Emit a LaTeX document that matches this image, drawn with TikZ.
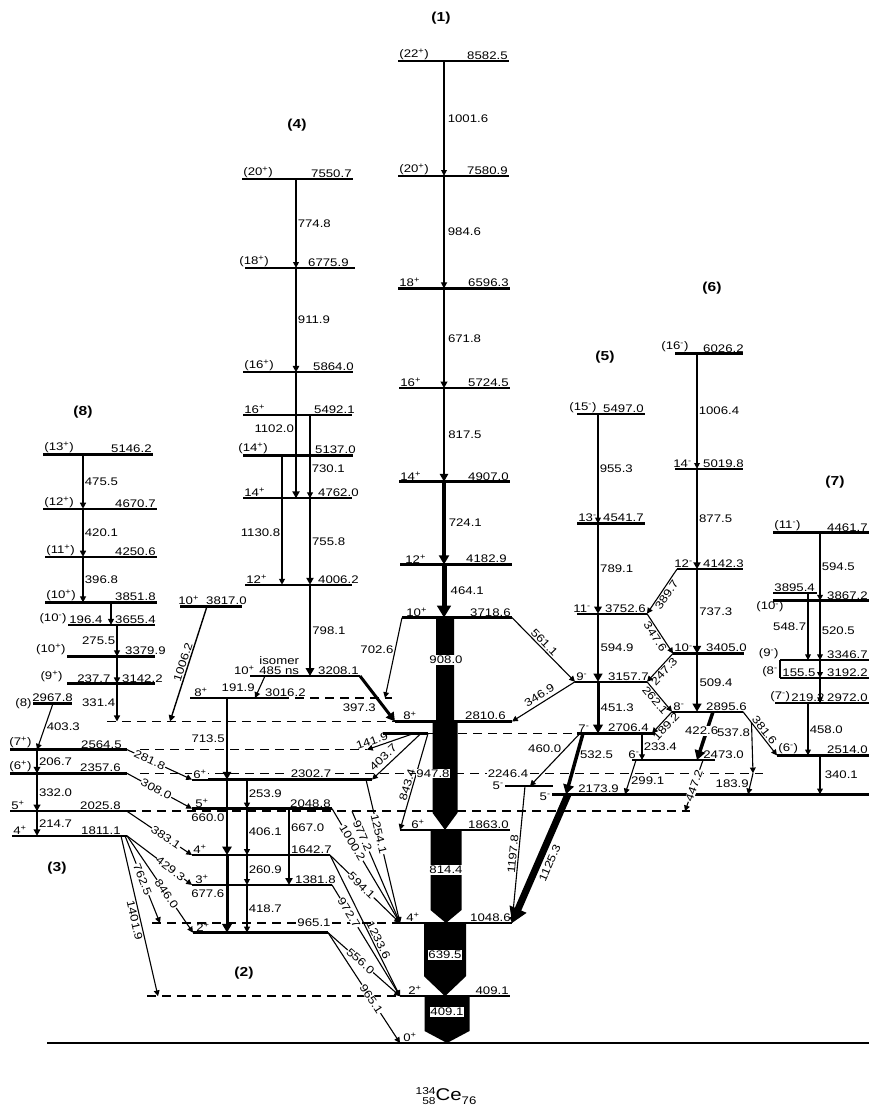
\documentclass[tikz,border=0pt]{standalone}
\usepackage{fontspec}
\setmainfont{Liberation Sans}[FakeStretch=1.2]
\usetikzlibrary{positioning, arrows.meta, calc, backgrounds}
\newcommand{\ey}[1]{{1043-0.1144*#1}}
\newcommand{\sgp}{\textsuperscript{+}}
\newcommand{\sgm}{\textsuperscript{-}}
\newcommand{\lvl}[4]{\draw[lvline] (#2,\ey{#4}) coordinate (#1) -- (#3,\ey{#4}) coordinate (#1e);}
\newcommand{\fat}[5]{\fill ({#1-#2},{1043-0.1144*#3}) -- ({#1+#2},{1043-0.1144*#3}) -- ({#1+#2},{1043-0.1144*#4-#5}) -- (#1,{1043-0.1144*#4}) -- ({#1-#2},{1043-0.1144*#4-#5}) -- cycle;}

\begin{document}
\begin{tikzpicture}[
		x=1pt, y=-1pt,
		every node/.style={font=\fontsize{11}{12}\selectfont, inner sep=1.2pt},
		lvline/.style={line width=2.4pt},
		dext/.style={line width=1.6pt, dash pattern=on 9pt off 6pt},
		tr/.style={line width=#1, -{Triangle[length=4pt 1.6, width=3.5pt 2]}},
		tr/.default=1.1pt,
		spinl/.style={anchor=south west},
		enr/.style={anchor=south east},
		onl/.style={sloped, fill=white, inner sep=0.4pt},
		barlab/.style={fill=white, inner sep=0.8pt},
		band/.style={font=\bfseries\fontsize{13}{15}\selectfont}
		]
		\useasboundingbox (0,0) rectangle (869,1113);
		
		% Columns of the in-band transitions
		\coordinate (c1) at (444,0);
		\coordinate (c4a) at (296,0);
		\coordinate (c4b) at (310,0);
		\coordinate (c4c) at (282,0);
		\coordinate (c8a) at (83,0);
		\coordinate (c8b) at (111,0);
		\coordinate (c8c) at (117,0);
		\coordinate (c3) at (37,0);
		\coordinate (c2a) at (227,0);
		\coordinate (c2b) at (247,0);
		\coordinate (c2c) at (289,0);
		\coordinate (c5) at (598,0);
		\coordinate (c5b) at (642,0);
		\coordinate (c6) at (697,0);
		\coordinate (c7a) at (808,0);
		\coordinate (c7b) at (820,0);
		
		% Levels, band (1)
		\lvl{l8582}{398}{509}{8582.5}
		\lvl{l7580}{398}{509}{7580.9}
		\lvl{l6596}{398}{510}{6596.3}
		\lvl{l5724}{399}{510}{5724.5}
		\lvl{l4907}{399}{510}{4907.0}
		\lvl{l4182}{400}{512}{4182.9}
		\lvl{l3718}{402}{512}{3718.6}
		\lvl{l2810}{395}{512}{2810.6}
		\lvl{l1863}{400}{510}{1863.0}
		\lvl{l1048}{400}{512}{1048.6}
		\lvl{l409}{400}{510}{409.1}
		\lvl{l0}{47}{869}{0}
		% band (4)
		\lvl{l7550}{242}{353}{7550.7}
		\lvl{l6775}{245}{355}{6775.9}
		\lvl{l5864}{243}{353}{5864.0}
		\lvl{l5492}{243}{352}{5492.1}
		\lvl{l5137}{243}{353}{5137.0}
		\lvl{l4762}{243}{352}{4762.0}
		\lvl{l4006}{245}{352}{4006.2}
		\lvl{l3817}{180}{242}{3817.0}
		\lvl{l3208}{250}{360}{3208.1}
		\lvl{l3016}{190}{280}{3016.2}
		% band (8)
		\lvl{l5146}{43}{153}{5146.2}
		\lvl{l4670}{43}{157}{4670.7}
		\lvl{l4250}{45}{157}{4250.6}
		\lvl{l3851}{45}{157}{3851.8}
		\lvl{l3655}{68}{155}{3655.4}
		\lvl{l3379}{67}{155}{3379.9}
		\lvl{l3142}{67}{155}{3142.2}
		\lvl{l2967}{33}{72}{2967.8}
		% band (3)
		\lvl{l2564}{10}{127}{2564.5}
		\lvl{l2357}{10}{127}{2357.6}
		\lvl{l2025}{10}{127}{2025.8}
		\lvl{l1811}{12}{127}{1811.1}
		% band (2)
		\lvl{l2302}{192}{372}{2302.7}
		\lvl{l2048}{192}{332}{2048.8}
		\lvl{l1642}{192}{330}{1642.7}
		\lvl{l1381}{192}{332}{1381.8}
		\lvl{l965}{193}{328}{965.1}
		% band (5)
		\lvl{l5497}{577}{645}{5497.0}
		\lvl{l4541}{577}{645}{4541.7}
		\lvl{l3752}{577}{647}{3752.6}
		\lvl{l3157}{575}{647}{3157.7}
		\lvl{l2706}{577}{655}{2706.4}
		\lvl{l2706w}{383}{428}{2706.4}
		\lvl{l2246}{505}{553}{2246.4}
		\lvl{l2173}{552}{869}{2173.9}
		% band (6)
		\lvl{l6026}{675}{743}{6026.2}
		\lvl{l5019}{675}{743}{5019.8}
		\lvl{l4142}{677}{743}{4142.3}
		\lvl{l3405}{673}{744}{3405.0}
		\lvl{l2895}{672}{743}{2895.6}
		\lvl{l2473}{632}{715}{2473.0}
		% band (7)
		\lvl{l4461}{773}{869}{4461.7}
		\lvl{l3895}{773}{817}{3935}
		\lvl{l3867}{773}{869}{3867.2}
		\lvl{l3346}{780}{869}{3346.7}
		\lvl{l3192}{780}{869}{3192.2}
		\lvl{l2972}{775}{869}{2972.0}
		\lvl{l2514}{777}{869}{2514.0}
		\draw[line width=1.4pt] (l3346) -- (l3192);
		
		% Dashed continuations of levels
		\begin{scope}[on background layer]
			\draw[dext] (107,0 |- l2810) -- (l2810);
			\draw[dext] (140,0 |- l2564) -- (367,0 |- l2564);
			\draw[dext] (140,0 |- l2357) -- (763,0 |- l2357);
			\draw[dext] (l2025e) -- (690,0 |- l2025);
			\draw[dext] (l3016e) -- (392,0 |- l3016);
			\draw[dext] (l2706we) -- (l2706);
			\draw[dext] (152,0 |- l1048) -- (l1048);
			\draw[dext] (147,0 |- l409) -- (l409);
		\end{scope}
		
		% In-band transitions
		\draw[tr] (c1 |- l8582) -- node[right=2pt] {1001.6} (c1 |- l7580);
		\draw[tr=1.3pt] (c1 |- l7580) -- node[right=2pt] {984.6} (c1 |- l6596);
		\draw[tr=1.6pt] (c1 |- l6596) -- node[right=2pt] {671.8} (c1 |- l5724);
		\draw[tr=2.4pt] (c1 |- l5724) -- node[right=2pt] {817.5} (c1 |- l4907);
		\draw[tr=3.2pt] (c1 |- l4907) -- node[right=2pt] {724.1} (c1 |- l4182);
		\draw[tr=5pt] (c1 |- l4182) -- node[right=3pt] {464.1} (c1 |- l3718);
		
		\draw[tr] (c4a |- l7550) -- node[right] {774.8} (c4a |- l6775);
		\draw[tr=1.5pt] (c4a |- l6775) -- node[right] {911.9} (c4a |- l5864);
		\draw[tr=1.8pt] (c4a |- l5864) -- node[left, pos=0.45] {1102.0} (c4a |- l4762);
		\draw[tr=1.2pt] (c4b |- l5492) -- node[right, pos=0.65] {730.1} (c4b |- l4762);
		\draw[tr=1.8pt] (c4b |- l4762) -- node[right] {755.8} (c4b |- l4006);
		\draw[tr=2.4pt] (c4b |- l4006) -- node[right] {798.1} (c4b |- l3208);
		\draw[tr=1.2pt] (c4c |- l5137) -- node[left, pos=0.6] {1130.8} (c4c |- l4006);
		
		\draw[tr=1.3pt] (c8a |- l5146) -- node[right] {475.5} (c8a |- l4670);
		\draw[tr=1.3pt] (c8a |- l4670) -- node[right] {420.1} (c8a |- l4250);
		\draw[tr=1.3pt] (c8a |- l4250) -- node[right] {396.8} (c8a |- l3851);
		\draw[tr=1.3pt] (c8b |- l3851) -- (c8b |- l3655);
		\draw[tr=1.3pt] (c8c |- l3655) -- node[left] {275.5} (c8c |- l3379);
		\draw[tr=1.3pt] (c8c |- l3379) -- (c8c |- l3142);
		\draw[tr=1.3pt] (c8c |- l3142) -- node[left] {331.4} (c8c |- l2810);
		
		\draw[tr=1.6pt] (c3 |- l2564) -- node[right] {206.7} (c3 |- l2357);
		\draw[tr=1.6pt] (c3 |- l2357) -- node[right] {332.0} (c3 |- l2025);
		\draw[tr=1.6pt] (c3 |- l2025) -- node[right] {214.7} (c3 |- l1811);
		
		\draw[tr=2.4pt] (c2a |- l3016) -- node[left] {713.5} (c2a |- l2302);
		\draw[tr=2.8pt] (c2a |- l2302) -- node[left] {660.0} (c2a |- l1642);
		\draw[tr=3pt] (c2a |- l1642) -- node[left] {677.6} (c2a |- l965);
		\draw[tr=1.2pt] (c2b |- l2302) -- node[right] {253.9} (c2b |- l2048);
		\draw[tr=1.2pt] (c2b |- l2048) -- node[right] {406.1} (c2b |- l1642);
		\draw[tr=1.2pt] (c2b |- l1642) -- node[right] {260.9} (c2b |- l1381);
		\draw[tr=1.2pt] (c2b |- l1381) -- node[right] {418.7} (c2b |- l965);
		\draw[tr=1.8pt] (c2c |- l2048) -- node[right, pos=0.25] {667.0} (c2c |- l1381);
		
		\draw[tr] (c5 |- l5497) -- node[right] {955.3} (c5 |- l4541);
		\draw[tr=2pt] (c5 |- l4541) -- node[right] {789.1} (c5 |- l3752);
		\draw[tr=2.6pt] (c5 |- l3752) -- node[right] {594.9} (c5 |- l3157);
		\draw[tr=3pt] (c5 |- l3157) -- node[right] {451.3} (c5 |- l2706);
		\draw[tr] (c5b |- l2706) -- node[right] {233.4} (c5b |- l2473);
		
		\draw[tr] (c6 |- l6026) -- node[right] {1006.4} (c6 |- l5019);
		\draw[tr=1.8pt] (c6 |- l5019) -- node[right] {877.5} (c6 |- l4142);
		\draw[tr=2.2pt] (c6 |- l4142) -- node[right] {737.3} (c6 |- l3405);
		\draw[tr=2.6pt] (c6 |- l3405) -- node[right] {509.4} (c6 |- l2895);
		
		\draw[tr] (c7b |- l4461) -- node[right] {594.5} (c7b |- l3867);
		\draw[tr] (c7a |- l3895) -- node[left] {548.7} (c7a |- l3346);
		\draw[tr] (c7b |- l3867) -- node[right] {520.5} (c7b |- l3346);
		\draw[tr] (c7b |- l3346) -- (c7b |- l3192);
		\draw[tr] (c7b |- l3192) -- (c7b |- l2972);
		\draw[tr] (c7a |- l2972) -- node[right] {458.0} (c7a |- l2514);
		\draw[tr] (c7b |- l2514) -- node[right=3pt] {340.1} (c7b |- l2173);
		
		% Linking transitions
		\draw[tr=1.4pt] (207,0 |- l3817) -- node[above, sloped] {1006.2} (170,0 |- l2810);
		\draw[tr] (l3718) -- node[left, pos=0.4] {702.6} (385,0 |- l3016);
		\draw[tr=3pt] (l3208e) -- node[left=6pt, pos=0.7] {397.3} (l2810);
		\draw[tr] (265,0 |- l3208) -- node[left=3pt, pos=0.55] {191.9} (255,0 |- l3016);
		\draw[tr] (53,0 |- l2967) -- node[right] {403.3} (37,0 |- l2564);
		
		\draw[tr] (l3718e) -- node[above, sloped, pos=0.45] {561.1} (l3157);
		\draw[tr] (l3157) -- node[above=2pt, sloped] {346.9} (l2810e);
		\draw[tr] (l4142) -- node[below, sloped] {389.7} (l3752e);
		\draw[tr] (l3752e) -- node[below, sloped] {347.6} (l3405);
		\draw[tr] (l3405) -- node[below, sloped] {247.3} (l3157e);
		\draw[tr] (l3157e) -- node[below, sloped] {262.1} (l2895);
		\draw[tr] (l2895e) -- node[above, sloped] {381.6} (l2514);
		\draw[tr] (l2895) -- node[below, sloped] {189.2} (652,0 |- l2706);
		\draw[tr=3.5pt] (713,0 |- l2895) -- node[barlab, pos=0.4, xshift=-5pt] {422.6} (697,0 |- l2473);
		\draw[tr] ($(l2895e)!0.25!(l2514)$) -- node[left, pos=0.2] {537.8} (753,0 |- l2357);
		\draw[tr] (753,0 |- l2357) -- node[left] {183.9} (748,0 |- l2173);
		\draw[tr] (703,0 |- l2473) -- node[onl] {447.2} (685,0 |- l2025);
		\draw[tr] (636,0 |- l2473) -- node[right, pos=0.6] {299.1} (625,0 |- l2173);
		\draw[tr] (580,0 |- l2706) -- node[left=2pt, pos=0.3] {460.0} (530,0 |- l2246);
		\draw[tr=3.5pt] (583,0 |- l2706) -- node[right, pos=0.35] {532.5} (566,0 |- l2173);
		\draw[tr=7pt] (568,0 |- l2173) -- node[below=2pt, sloped] {1125.3} (l1048e);
		\draw[tr] (525,0 |- l2246) -- node[above, sloped] {1197.8} (l1048e);
		
		\draw[tr] (414,0 |- l2706w) -- node[above=1pt, sloped, pos=0.85] {141.9} (367,0 |- l2564);
		\draw[tr] (421,0 |- l2706w) -- node[above=3pt, sloped, pos=0.65] {403.7} (l2302e);
		\draw[tr] (l2706we) -- node[above, sloped, pos=0.55] {843.4} (l1863);
		\draw[tr] (366,0 |- l2302) -- node[onl, pos=0.38] {1254.1} (l1048);
		\draw[tr] (352,0 |- l2025) -- node[onl, pos=0.22] {977.2} (l1048);
		\draw[tr] (l2048e) -- node[onl, pos=0.3] {1000.2} (l1048);
		\draw[tr] (l1642e) -- node[onl, pos=0.45] {594.1} (l1048);
		\draw[tr] (l1642e) -- node[above, sloped, pos=0.62] {1233.6} (l409);
		\draw[tr] (l1381e) -- node[onl, pos=0.25] {972.7} (l409);
		\draw[tr] (l965e) -- node[onl, pos=0.45] {556.0} (l409);
		\draw[tr] (l965e) -- node[onl, pos=0.6] {965.1} (400,0 |- l0);
		
		\draw[tr] (l2564e) -- node[onl, pos=0.35] {281.8} (l2302);
		\draw[tr] (l2357e) -- node[onl, pos=0.45] {308.0} (l2048);
		\draw[tr] (l2025e) -- node[onl, pos=0.6] {383.1} (l1642);
		\draw[tr] (l1811e) -- node[onl, pos=0.67] {429.3} (l1381);
		\draw[tr] (l1811e) -- node[onl, pos=0.6] {846.0} (l965);
		\draw[tr] (125,0 |- l1811) -- node[onl, pos=0.5] {762.5} (160,0 |- l1048);
		\draw[tr] (121,0 |- l1811) -- node[below, sloped, pos=0.52] {1401.9} (158,0 |- l409);
		
		% Yrast cascade, band (1)
		\fat{445}{9}{3718.6}{2810.6}{0}
		\fat{445}{12.5}{2810.6}{1863.0}{17}
		\fat{446}{15.5}{1863.0}{1048.6}{13}
		\fat{445}{21}{1048.6}{409.1}{20}
		\fat{447}{22.5}{409.1}{0}{12}
		\node[barlab] (b908) at (446,660) {908.0};
		\node[barlab] (b947) at (433,\ey{2357.6}) {947.8};
		\node[barlab] (b814) at (446,870) {814.4};
		\node[barlab] (b639) at (445,955) {639.5};
		\node[barlab] (b409) at (447,1012) {409.1};
		
		% Level labels
		\node[spinl] at (l8582) {(22\sgp)}; \node[enr] at (l8582e) {8582.5};
		\node[spinl] at (l7580) {(20\sgp)}; \node[enr] at (l7580e) {7580.9};
		\node[spinl] at (l6596) {18\sgp}; \node[enr] at (l6596e) {6596.3};
		\node[spinl] at (l5724) {16\sgp}; \node[enr] at (l5724e) {5724.5};
		\node[spinl] at (l4907) {14\sgp}; \node[enr] at (l4907e) {4907.0};
		\node[spinl, xshift=4pt] at (l4182) {12\sgp}; \node[enr, xshift=-4pt] at (l4182e) {4182.9};
		\node[spinl, xshift=3pt] at (l3718) {10\sgp}; \node[enr] at (l3718e) {3718.6};
		\node[spinl, xshift=7pt] at (l2810) {8\sgp}; \node[enr, xshift=-5pt] at (l2810e) {2810.6};
		\node[spinl, xshift=10pt] at (l1863) {6\sgp}; \node[enr] at (l1863e) {1863.0};
		\node[spinl, xshift=5pt] at (l1048) {4\sgp}; \node[enr] at (l1048e) {1048.6};
		\node[spinl, xshift=7pt] at (l409) {2\sgp}; \node[enr] at (l409e) {409.1};
		\node[spinl] at (402,0 |- l0) {0\sgp};
		
		\node[spinl] at (l7550) {(20\sgp)}; \node[enr] at (l7550e) {7550.7};
		\node[spinl, xshift=-7pt] at (l6775) {(18\sgp)}; \node[enr, xshift=-5pt] at (l6775e) {6775.9};
		\node[spinl] at (l5864) {(16\sgp)}; \node[enr, xshift=2pt] at (l5864e) {5864.0};
		\node[spinl] at (l5492) {16\sgp}; \node[enr, xshift=4pt] at (l5492e) {5492.1};
		\node[spinl, xshift=-6pt] at (l5137) {(14\sgp)}; \node[enr, xshift=4pt] at (l5137e) {5137.0};
		\node[spinl] at (l4762) {14\sgp}; \node[enr, xshift=8pt] at (l4762e) {4762.0};
		\node[spinl] at (l4006) {12\sgp}; \node[enr, xshift=8pt] at (l4006e) {4006.2};
		\node[spinl, xshift=-3pt] at (l3817) {10\sgp}; \node[enr, xshift=6pt] at (l3817e) {3817.0};
		\node[enr, xshift=6pt] at (l3208) {10\sgp};
		\node[spinl, xshift=8pt] (ns) at (l3208) {485 ns};
		\node[above=-1pt of ns] {isomer};
		\node[enr] at (l3208e) {3208.1};
		\node[spinl, xshift=3pt] at (l3016) {8\sgp}; \node[enr, xshift=27pt] at (l3016e) {3016.2};
		
		\node[spinl] at (l5146) {(13\sgp)}; \node[enr] at (l5146e) {5146.2};
		\node[spinl] at (l4670) {(12\sgp)}; \node[enr] at (l4670e) {4670.7};
		\node[spinl] at (l4250) {(11\sgp)}; \node[enr] at (l4250e) {4250.6};
		\node[spinl] at (l3851) {(10\sgp)}; \node[enr] at (l3851e) {3851.8};
		\node[enr] at (l3655) {(10\sgm)}; \node[spinl] at (l3655) {196.4}; \node[enr, xshift=2pt] at (l3655e) {3655.4};
		\node[enr] at (l3379) {(10\sgp)}; \node[enr, xshift=12pt] at (l3379e) {3379.9};
		\node[enr, xshift=-3pt] at (l3142) {(9\sgp)}; \node[spinl, xshift=9pt] at (l3142) {237.7}; \node[enr, xshift=9pt] at (l3142e) {3142.2};
		\node[anchor=east] at (l2967) {(8)}; \node[spinl, xshift=-2pt] at (l2967) {2967.8};
		
		\node[spinl, xshift=-2pt] at (l2564) {(7\sgp)}; \node[enr, xshift=-4pt] at (l2564e) {2564.5};
		\node[spinl, xshift=-2pt] at (l2357) {(6\sgp)}; \node[enr, xshift=-5pt] at (l2357e) {2357.6};
		\node[spinl] at (l2025) {5\sgp}; \node[enr, xshift=-5pt] at (l2025e) {2025.8};
		\node[spinl] at (l1811) {4\sgp}; \node[enr, xshift=-5pt] at (l1811e) {1811.1};
		
		\node[spinl, fill=white] at (l2302) {6\sgp}; \node[barlab] at (311,\ey{2357.6}) {2302.7};
		\node[spinl, xshift=2pt] at (l2048) {5\sgp}; \node[enr] at (l2048e) {2048.8};
		\node[spinl] at (l1642) {4\sgp}; \node[enr, xshift=3pt] at (l1642e) {1642.7};
		\node[spinl, xshift=2pt] at (l1381) {3\sgp}; \node[enr, xshift=5pt] at (l1381e) {1381.8};
		\node[spinl, xshift=2pt] at (l965) {2\sgp}; \node[barlab] at (314,\ey{1048.6}) {965.1};
		
		\node[spinl, xshift=-9pt] at (l5497) {(15\sgm)}; \node[enr] at (l5497e) {5497.0};
		\node[spinl] at (l4541) {13\sgm}; \node[enr] at (l4541e) {4541.7};
		\node[spinl, xshift=-5pt] at (l3752) {11\sgm}; \node[enr] at (l3752e) {3752.6};
		\node[spinl] at (l3157) {9\sgm}; \node[enr, xshift=3pt] at (l3157e) {3157.7};
		\node[spinl] at (l2706) {7\sgm}; \node[enr, xshift=-5pt] at (l2706e) {2706.4};
		\node[anchor=east] at (l2246) {5\sgm}; \node[barlab] at (508,\ey{2357.6}) {2246.4};
		\node[anchor=east, yshift=-2pt] at (l2173) {5\sgm}; \node[spinl, xshift=25pt] at (l2173) {2173.9};
		
		\node[spinl, xshift=-15pt] at (l6026) {(16\sgm)}; \node[enr, xshift=2pt] at (l6026e) {6026.2};
		\node[spinl, xshift=-3pt] at (l5019) {14\sgm}; \node[enr, xshift=2pt] at (l5019e) {5019.8};
		\node[spinl, xshift=-4pt] at (l4142) {12\sgm}; \node[enr, xshift=2pt] at (l4142e) {4142.3};
		\node[spinl] at (l3405) {10\sgm}; \node[enr, xshift=4pt] at (l3405e) {3405.0};
		\node[spinl] at (l2895) {8\sgm}; \node[enr, xshift=5pt] at (l2895e) {2895.6};
		\node[spinl, xshift=-5pt] at (l2473) {6\sgm}; \node[spinl, xshift=-13pt] at (l2473e) {2473.0};
		
		\node[spinl] at (l4461) {(11\sgm)}; \node[enr] at (l4461e) {4461.7};
		\node[spinl] at (l3895) {3895.4}; \node[enr] at (l3867e) {3867.2};
		\node[anchor=north west, xshift=-18pt] at (l3867) {(10\sgm)};
		\node[enr] at (l3346) {(9\sgm)}; \node[enr] at (l3346e) {3346.7};
		\node[enr, xshift=-1pt] at (l3192) {(8\sgm}; \node[spinl, xshift=1pt] at (l3192) {155.5}; \node[enr] at (l3192e) {3192.2};
		\node[spinl, xshift=-6pt] at (l2972) {(7\sgm)}; \node[spinl, xshift=15pt] at (l2972) {219.2}; \node[enr] at (l2972e) {2972.0};
		\node[spinl] at (l2514) {(6\sgm)}; \node[enr] at (l2514e) {2514.0};
		
		% Band names
		\node[band] (b1) at (441,18) {(1)};
		\node[band] (b2) at (244,973) {(2)};
		\node[band] (b3) at (57,868) {(3)};
		\node[band] (b4) at (297,125) {(4)};
		\node[band] (b5) at (605,357) {(5)};
		\node[band] (b6) at (712,288) {(6)};
		\node[band] (b7) at (835,482) {(7)};
		\node[band] (b8) at (83,412) {(8)};
		
		\node (nuc) at (446,1096) {\raisebox{-4pt}{\fontsize{10}{10}\selectfont\shortstack[r]{134\\58}}{\fontsize{17}{18}\selectfont Ce}\raisebox{-4pt}{\fontsize{11}{11}\selectfont 76}};
		
	\end{tikzpicture}
\end{document}
